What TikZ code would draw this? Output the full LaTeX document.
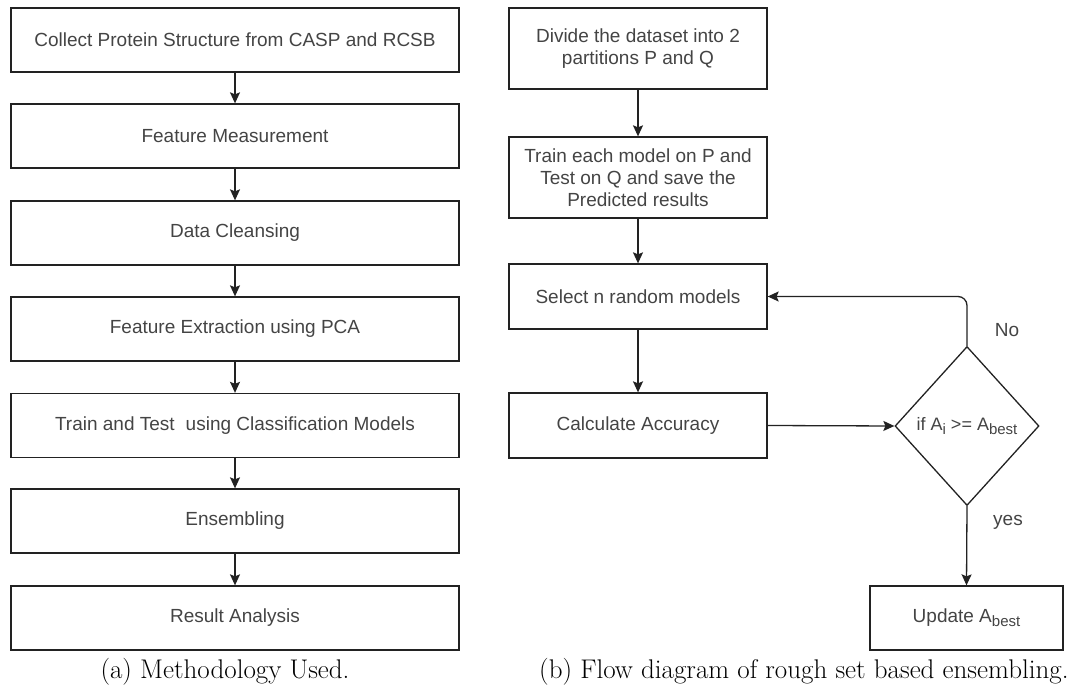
\documentclass[tikz,border=0pt]{standalone}
\usepackage{fontspec}
\usetikzlibrary{shapes.geometric,arrows.meta}
\newfontfamily\boxfont{Liberation Sans}
\definecolor{txtgray}{HTML}{444444}
\definecolor{linegray}{HTML}{222222}
\newcommand{\subbest}{\raisebox{-0.35ex}{\fontsize{15}{15}\selectfont best}}
\newcommand{\subi}{\raisebox{-0.35ex}{\fontsize{15}{15}\selectfont i}}
\begin{document}
\begin{tikzpicture}[x=1pt,y=-1pt,
  flowbox/.style={draw=linegray, line width=1.3pt, rectangle, inner sep=2pt, align=center,
    font=\boxfont\fontsize{19}{22}\selectfont, text=txtgray},
  leftbox/.style={flowbox, minimum width=448pt, minimum height=64pt},
  rightbox/.style={flowbox, minimum width=258pt},
  decision/.style={draw=linegray, line width=1.3pt, diamond, inner sep=0pt, minimum width=144pt, minimum height=159pt,
    font=\boxfont\fontsize{18}{22}\selectfont, text=txtgray},
  arr/.style={draw=linegray, line width=1.3pt, -{Stealth[length=11pt,width=10pt,inset=2pt]}},
  lbl/.style={font=\boxfont\fontsize{19}{22}\selectfont, text=txtgray},
  captext/.style={font=\fontsize{27}{31}\selectfont, text=black}
]
\useasboundingbox (0,0) rectangle (1073,692);
% left column
\node[leftbox] (l1) at (235,40) {Collect Protein Structure from CASP and RCSB};
\node[leftbox] (l2) at (235,136) {Feature Measurement};
\node[leftbox] (l3) at (235,233) {Data Cleansing};
\node[leftbox] (l4) at (235,329) {Feature Extraction using PCA};
\node[leftbox] (l5) at (235,425.5) {Train and Test\hspace{0.3em} using Classification Models};
\node[leftbox] (l6) at (235,521) {Ensembling};
\node[leftbox] (l7) at (235,618) {Result Analysis};
\foreach \a/\b in {l1/l2,l2/l3,l3/l4,l4/l5,l5/l6,l6/l7}
  \draw[arr] (\a.south) -- (\b.north);
% right column
\node[rightbox, minimum height=81pt] (r1) at (638,48.5) {Divide the dataset into 2\\partitions P and Q};
\node[rightbox, minimum height=81pt] (r2) at (638,177.5) {Train each model on P and\\Test on Q and save the\\Predicted results};
\node[rightbox, minimum height=65pt] (r3) at (638,296.5) {Select n random models};
\node[rightbox, minimum height=65pt] (r4) at (638,425.5) {Calculate Accuracy};
\node[decision] (d) at (967,426) {if A\subi{} >= A\subbest};
\node[flowbox, minimum width=193pt, minimum height=64pt] (u) at (966.5,618) {Update A\subbest};
\draw[arr] (r1.south) -- (r2.north);
\draw[arr] (r2.south) -- (r3.north);
\draw[arr] (r3.south) -- (r4.north);
\draw[arr] (r4.east) -- (d.west);
\draw[arr, rounded corners=9pt] (d.north) |- (r3.east);
\draw[arr] (d.south) -- (u.north);
\node[lbl] (no) at (1007,330) {No};
\node[lbl] (yes) at (1008,522) {yes};
% captions
\node[captext, anchor=base] (capa) at (225,678) {(a) Methodology Used.};
\node[captext, anchor=base east] (capb) at (1072,678) {(b) Flow diagram of rough set based ensembling.};
\end{tikzpicture}
\end{document}
